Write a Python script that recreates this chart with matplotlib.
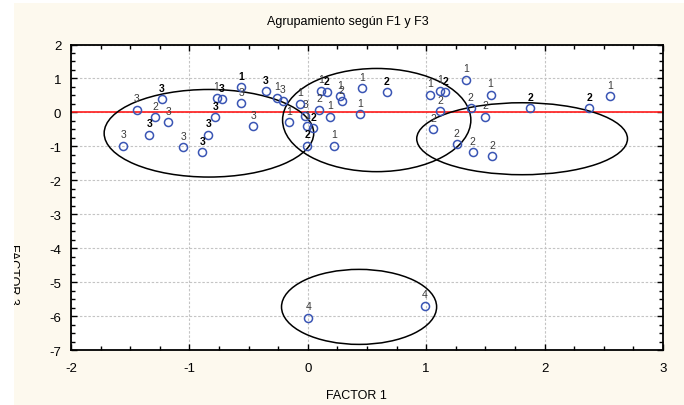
import matplotlib
matplotlib.use('Agg')
import matplotlib.pyplot as plt
from matplotlib.patches import Ellipse, Rectangle
from matplotlib.ticker import MultipleLocator

plt.rcParams['font.family'] = ['Liberation Sans', 'DejaVu Sans']
plt.rcParams['axes.unicode_minus'] = False

# cases: factor 1, factor 3, group label, number of cases at that spot
f1 = [-1.56, -1.445, -1.34, -1.29, -1.234, -1.18, -1.05, -0.89, -0.84, -0.78,
      -0.77, -0.727, -0.56, -0.56, -0.46, -0.355, -0.262, -0.21, -0.155, -0.065,
      -0.02, -0.003, 0.045, -0.006, 0.095, 0.11, 0.158, 0.189, 0.225, 0.27,
      0.285, 0.456, 0.44, 0.665, 1.034, 1.116, 1.16, 1.118, 1.057, 1.257,
      1.338, 1.544, 1.375, 1.50, 1.392, 1.555, 1.88, 2.378, 2.553,
      0.003, 0.99]
f3 = [-0.98, 0.08, -0.66, -0.14, 0.39, -0.29, -1.02, -1.18, -0.66, -0.14,
      0.43, 0.39, 0.75, 0.27, -0.41, 0.63, 0.43, 0.35, -0.29, 0.26,
      -0.10, -0.41, -0.46, -0.98, 0.08, 0.64, 0.59, -0.13, -0.98, 0.48,
      0.34, 0.71, -0.05, 0.59, 0.52, 0.64, 0.59, 0.03, -0.49, -0.93,
      0.96, 0.52, 0.12, -0.13, -1.18, -1.29, 0.12, 0.12, 0.48,
      -6.05, -5.69]
grupo = ['3', '3', '3', '2', '3', '3', '3', '3', '3', '3',
         '1', '3', '1', '3', '3', '3', '1', '3', '1', '1',
         '3', '1', '2', '2', '2', '1', '2', '1', '1', '1',
         '2', '1', '1', '2', '1', '1', '2', '2', '2', '2',
         '1', '1', '2', '2', '2', '2', '2', '2', '1',
         '4', '4']
n_casos = [1, 1, 2, 1, 2, 1, 1, 2, 2, 2,
           1, 2, 2, 1, 1, 2, 1, 1, 1, 1,
           1, 1, 2, 2, 1, 1, 2, 1, 1, 1,
           1, 1, 1, 2, 1, 1, 2, 1, 1, 1,
           1, 1, 1, 1, 1, 1, 2, 2, 1,
           1, 1]

# cluster ellipses (centre, width, height) in factor units
ell_cx = [-0.835, 0.582, 1.81, 0.433]
ell_cy = [-0.615, -0.226, -0.776, -5.73]
ell_w = [1.77, 1.59, 1.78, 1.31]
ell_h = [2.58, 3.04, 2.12, 2.21]

W, H = 684, 406
fig = plt.figure(figsize=(W / 100, H / 100), dpi=100, facecolor='white')
fondo = Rectangle((14 / W, 0), 1 - 14 / W, (H - 4) / H, transform=fig.transFigure,
                  facecolor='#fdf9ee', edgecolor='none', zorder=-10)
fig.patches.append(fondo)

ax = fig.add_axes([71 / W, 1 - 351 / H, (663 - 71) / W, (351 - 45.5) / H])
ax.set_facecolor('white')

ax.set_xlim(-2, 3)
ax.set_ylim(-7, 2)
ax.xaxis.set_major_locator(MultipleLocator(1))
ax.xaxis.set_minor_locator(MultipleLocator(0.25))
ax.yaxis.set_major_locator(MultipleLocator(1))
ax.yaxis.set_minor_locator(MultipleLocator(0.25))
ax.tick_params(which='both', direction='in', top=True, right=True, width=1, color='black')
ax.tick_params(which='major', length=4)
ax.tick_params(which='minor', length=3)
ax.tick_params(axis='x', labelsize=9.5, pad=8.5)
ax.tick_params(axis='y', labelsize=9.5, pad=7)
for s in ax.spines.values():
    s.set_linewidth(1.3)

ax.grid(True, which='major', color='#c4c4c4', linestyle=(0, (2.2, 1.6)), linewidth=0.8)
ax.set_axisbelow(True)

ax.axhline(0, color='#ff1a1a', linewidth=1.2, zorder=2)

for cx, cy, w, h in zip(ell_cx, ell_cy, ell_w, ell_h):
    ax.add_patch(Ellipse((cx, cy), w, h, facecolor='none', edgecolor='black',
                         linewidth=1.1, zorder=3))

ax.plot(f1, f3, linestyle='none', marker='o', markersize=5.8, markerfacecolor='none',
        markeredgecolor='#3a55b4', markeredgewidth=1.1, zorder=4)

for x, y, g, n in zip(f1, f3, grupo, n_casos):
    ax.annotate(g, (x, y), xytext=(0, 6), textcoords='offset points',
                ha='center', va='baseline', fontsize=7.5,
                color='black' if n > 1 else '#3a3a3a',
                fontweight='bold' if n > 1 else 'normal', zorder=5)

fig.text(348 / W, 1 - 22 / H, 'Agrupamiento según F1 y F3', ha='center', va='center',
         fontsize=9)
fig.text(356 / W, 1 - 399 / H, 'FACTOR 1', ha='center', va='baseline', fontsize=9)
ylab = fig.text(18.5 / W, 1 - 274 / H, 'FACTOR 3', ha='right', va='center',
                rotation=270, fontsize=9)
ylab.set_clip_path(fondo)

fig.savefig('out.png', dpi=100, facecolor='white')
